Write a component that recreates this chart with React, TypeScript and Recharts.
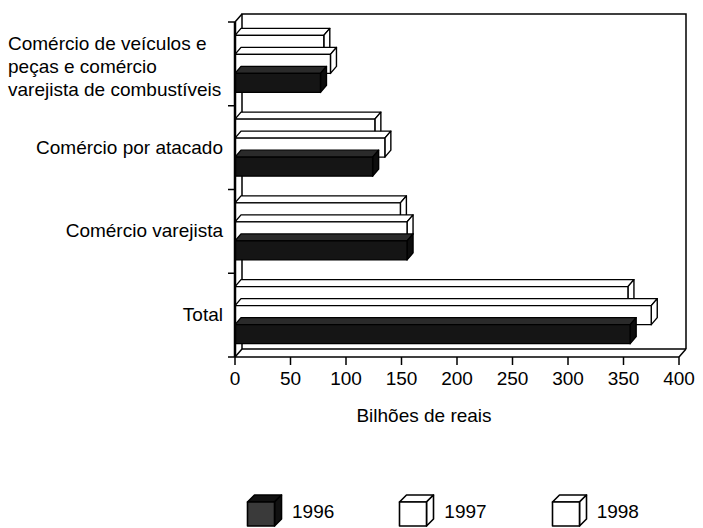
import * as Recharts from "recharts";
import { BarChart, Bar, XAxis, YAxis, Legend } from "recharts";

const CATEGORIES = [
   "Comércio de veículos e peças e comércio varejista de combustíveis",
   "Comércio por atacado",
   "Comércio varejista",
   "Total",
];
const CATEGORY_LINES = [
   ["Comércio de veículos e", "peças e comércio", "varejista de combustíveis"],
   ["Comércio por atacado"],
   ["Comércio varejista"],
   ["Total"],
];
const VALUES_1996 = [77, 124, 155, 356];
const VALUES_1997 = [86, 135, 155, 375];
const VALUES_1998 = [80, 126, 149, 354];
const YEARS = ["1996", "1997", "1998"];
const X_TICKS = [0, 50, 100, 150, 200, 250, 300, 350, 400];

const FONT = "'Liberation Sans', Arial, Helvetica, sans-serif";
const DEPTH_X = 7;
const DEPTH_Y = 8;

const data = CATEGORIES.map((name, i) => ({
   name,
   y1996: VALUES_1996[i],
   y1997: VALUES_1997[i],
   y1998: VALUES_1998[i],
}));

// usePlotArea only exists in newer recharts 3 builds
const usePlotAreaSafe: () => any = (Recharts as any).usePlotArea ?? (() => null);

const Frame3D = () => {
   const area = usePlotAreaSafe();
   if (!area) return null;
   const { x, y, width: w, height: h } = area;
   const dx = DEPTH_X;
   const dy = DEPTH_Y;
   const bands = CATEGORIES.length;
   return (
      <g stroke="#000" strokeWidth={1.5} fill="none">
         <polyline points={`${x + dx},${y + h - dy} ${x + dx},${y - dy} ${x + w + dx},${y - dy} ${x + w + dx},${y + h - dy}`} />
         <line x1={x + dx} y1={y + h - dy} x2={x + w + dx} y2={y + h - dy} />
         <line x1={x} y1={y} x2={x + dx} y2={y - dy} />
         <line x1={x} y1={y + h} x2={x + dx} y2={y + h - dy} />
         <line x1={x + w} y1={y + h} x2={x + w + dx} y2={y + h - dy} />
         {Array.from({ length: bands + 1 }, (_, i) => (
            <line key={i} x1={x - 7} y1={y + (h * i) / bands} x2={x} y2={y + (h * i) / bands} />
         ))}
      </g>
   );
};

const Box3D = (props: any) => {
   const { x, y, width, height, dark } = props;
   if (!width || width <= 0) return null;
   const dx = 6;
   const dy = 7;
   const front = dark ? "#151515" : "#fff";
   const side = dark ? "#0d0d0d" : "#fff";
   const top = dark ? "#2a2a2a" : "#fff";
   return (
      <g stroke="#000" strokeWidth={1.4} strokeLinejoin="round">
         <polygon
            points={`${x},${y} ${x + dx},${y - dy} ${x + width + dx},${y - dy} ${x + width},${y}`}
            fill={top}
         />
         <polygon
            points={`${x + width},${y} ${x + width + dx},${y - dy} ${x + width + dx},${y + height - dy} ${x + width},${y + height}`}
            fill={side}
         />
         <rect x={x} y={y} width={width} height={height} fill={front} />
      </g>
   );
};

const CategoryTick = (props: any) => {
   const { x, y, payload } = props;
   const idx = CATEGORIES.indexOf(payload.value);
   const lines = CATEGORY_LINES[idx] ?? [payload.value];
   const right = x - 4;
   if (lines.length > 1) {
      return (
         <text fontFamily={FONT} fontSize={19} fill="#000" textAnchor="start">
            {lines.map((l, i) => (
               <tspan key={i} x={right - 215} y={y + (i - 1) * 23 + 9}>
                  {l}
               </tspan>
            ))}
         </text>
      );
   }
   return (
      <text x={right} y={y + 6} fontFamily={FONT} fontSize={19} fill="#000" textAnchor="end">
         {lines[0]}
      </text>
   );
};

const LegendIcon = ({ dark }: { dark: boolean }) => (
   <svg width={38} height={34} style={{ display: "block" }}>
      <g stroke="#000" strokeWidth={1.6} strokeLinejoin="round">
         <polygon points="1.5,9 8.5,2 35.5,2 28.5,9" fill={dark ? "#111" : "#fff"} />
         <polygon points="28.5,9 35.5,2 35.5,26 28.5,33" fill={dark ? "#111" : "#fff"} />
         <rect x={1.5} y={9} width={27} height={24} fill={dark ? "#3a3a3a" : "#fff"} />
      </g>
   </svg>
);

const LegendContent = () => (
   <div style={{ height: 38, display: "flex", paddingLeft: 246, paddingTop: 3, boxSizing: "border-box" }}>
      {YEARS.map((yr, i) => (
         <div key={yr} style={{ width: 166, display: "flex", alignItems: "center", height: 34 }}>
            <LegendIcon dark={i === 0} />
            <span style={{ marginLeft: 8, fontFamily: FONT, fontSize: 19, color: "#000", paddingTop: 3 }}>{yr}</span>
         </div>
      ))}
   </div>
);

const AxisTitle = (p: any) => {
   const vb = p.viewBox;
   if (!vb) return null;
   return (
      <text x={vb.x + vb.width / 2 - 33} y={vb.y + 65} textAnchor="middle" fontFamily={FONT} fontSize={19} fill="#000">
         Bilhões de reais
      </text>
   );
};

export default function App() {
   return (
      <div style={{ position: "absolute", left: 0, top: 0, width: 703, height: 528, background: "#fff" }}>
         <BarChart
            width={703}
            height={528}
            data={data}
            layout="vertical"
            margin={{ top: 22, right: 24, left: 0, bottom: 0 }}
            barCategoryGap="16%"
            barGap={0}>
            <Frame3D />
            <XAxis
               type="number"
               domain={[0, 400]}
               ticks={X_TICKS}
               height={133}
               tickSize={8}
               tickMargin={7}
               axisLine={{ stroke: "#000", strokeWidth: 1.5 }}
               tickLine={{ stroke: "#000", strokeWidth: 1.5 }}
               tick={{ fill: "#000", fontSize: 19, fontFamily: FONT }}
               label={{ content: <AxisTitle /> }}
            />
            <YAxis
               type="category"
               dataKey="name"
               width={235}
               axisLine={{ stroke: "#000", strokeWidth: 2.5 }}
               tickLine={false}
               tick={<CategoryTick />}
               interval={0}
            />
            <Legend verticalAlign="bottom" align="left" width={703} content={<LegendContent />} />
            <Bar dataKey="y1998" isAnimationActive={false} shape={(p: any) => <Box3D {...p} dark={false} />} />
            <Bar dataKey="y1997" isAnimationActive={false} shape={(p: any) => <Box3D {...p} dark={false} />} />
            <Bar dataKey="y1996" isAnimationActive={false} shape={(p: any) => <Box3D {...p} dark />} />
         </BarChart>
      </div>
   );
}
